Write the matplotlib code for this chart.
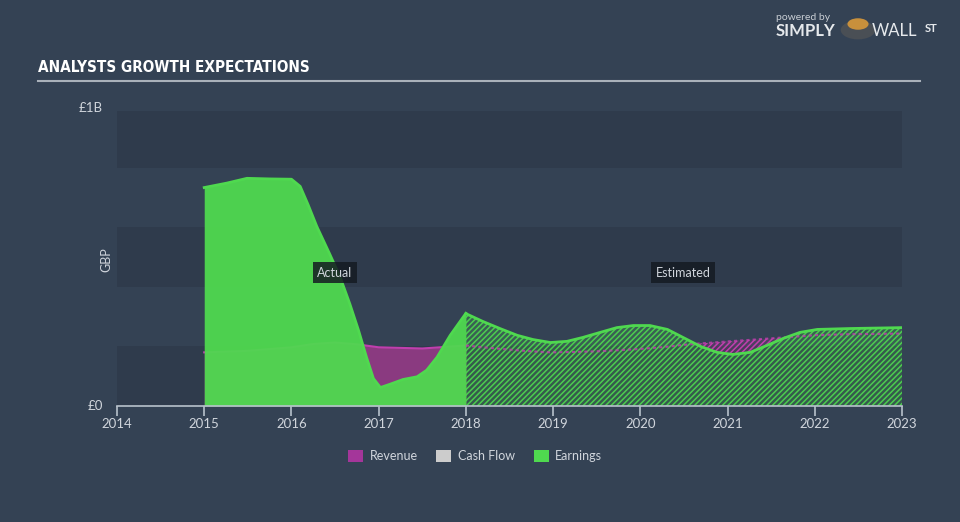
import numpy as np
import matplotlib
matplotlib.use("Agg")
import matplotlib.pyplot as plt
from matplotlib.patches import Patch, Circle

# values in billions of GBP
act_earn_years = [2015.0, 2015.0, 2015.26, 2015.49, 2015.75, 2016.0, 2016.1, 2016.19,
                  2016.29, 2016.44, 2016.56, 2016.67, 2016.77, 2016.86, 2016.94,
                  2017.02, 2017.13, 2017.28, 2017.44, 2017.55, 2017.67, 2017.82, 2018.0]
act_earn = [0.0, 0.733, 0.748, 0.764, 0.762, 0.761, 0.737, 0.676, 0.603, 0.509,
            0.431, 0.342, 0.253, 0.164, 0.092, 0.062, 0.073, 0.089, 0.098, 0.12,
            0.164, 0.237, 0.311]

act_rev_years = [2015.0, 2015.5, 2016.0, 2016.25, 2016.5, 2016.75, 2017.0, 2017.5, 2018.0]
act_rev = [0.18, 0.185, 0.197, 0.208, 0.213, 0.207, 0.197, 0.193, 0.203]

est_years = [2018.0, 2018.2, 2018.39, 2018.59, 2018.77, 2018.97, 2019.16, 2019.34,
             2019.54, 2019.73, 2019.92, 2020.11, 2020.31, 2020.49, 2020.69, 2020.88,
             2021.06, 2021.26, 2021.45, 2021.64, 2021.83, 2022.03, 2022.41, 2023.0]
est_earn = [0.31, 0.283, 0.26, 0.237, 0.223, 0.213, 0.217, 0.23, 0.247, 0.263,
            0.27, 0.27, 0.257, 0.23, 0.2, 0.18, 0.173, 0.18, 0.203, 0.227, 0.247,
            0.257, 0.26, 0.263]
est_rev = [0.203, 0.197, 0.192, 0.187, 0.183, 0.18, 0.181, 0.182, 0.184, 0.187,
           0.19, 0.194, 0.199, 0.205, 0.21, 0.214, 0.218, 0.222, 0.226, 0.23,
           0.234, 0.238, 0.241, 0.243]

year_ticks = list(range(2014, 2024))

BG = "#344254"
BAND = "#2f3b4c"
GREEN = "#4fd94f"
PURPLE = "#8a3a80"
PINK = "#c03fae"
TXT = "#d0d5dc"

plt.rcParams["font.family"] = ["Lato", "DejaVu Sans"]
plt.rcParams["hatch.linewidth"] = 1.1

fig = plt.figure(figsize=(9.6, 5.22), dpi=100, facecolor=BG)
ax = fig.add_axes([117 / 960, 1 - 406 / 522, 785 / 960, 298 / 522])
ax.set_facecolor(BG)
ax.set_xlim(2014, 2023)
ax.set_ylim(0, 1.0)

for lo in (0.0, 0.4, 0.8):
    ax.axhspan(lo, lo + 0.2 if lo < 0.8 else 0.99, color=BAND, lw=0, zorder=0)

# actual period
ax.fill_between(act_rev_years, 0, act_rev, color=PURPLE, lw=0, zorder=1)
ax.plot(act_rev_years, act_rev, color=PINK, lw=1.5, zorder=1.5)
ax.fill_between(act_earn_years, 0, act_earn, color=GREEN, alpha=0.95, lw=0, zorder=2)
ax.plot(act_earn_years[1:], act_earn[1:], color=GREEN, lw=2, zorder=2.5)

# estimated period
er = np.array(est_rev)
ee = np.array(est_earn)
ax.fill_between(est_years, ee, er, where=er > ee, interpolate=True,
                facecolor=(0.55, 0.23, 0.5, 0.3), edgecolor=PINK, hatch="//////",
                lw=0, zorder=1)
ax.fill_between(est_years, 0, est_earn, facecolor=(0.31, 0.85, 0.31, 0.2),
                edgecolor=(0.31, 0.85, 0.31, 0.9), hatch="//////", lw=0, zorder=2)
ax.plot(est_years, est_rev, color=PINK, lw=1.5, ls=(0, (1.5, 1.5)), alpha=0.8, zorder=3)
ax.plot(est_years, est_earn, color=GREEN, lw=2, zorder=4)

for s in ("top", "right", "left"):
    ax.spines[s].set_visible(False)
ax.spines["bottom"].set_color("#b8c2cc")
ax.spines["bottom"].set_linewidth(1.2)
ax.set_xticks(year_ticks)
ax.set_xticklabels([str(y) for y in year_ticks])
ax.tick_params(axis="x", colors="#b8c2cc", labelcolor=TXT, labelsize=9.5,
               length=7, width=1.2, pad=2)
ax.set_yticks([])

ax.text(-0.018, 0.0, "£0", transform=ax.transAxes, ha="right", va="center",
        color=TXT, fontsize=9.5)
ax.text(-0.018, 1.0, "£1B", transform=ax.transAxes, ha="right", va="center",
        color=TXT, fontsize=9.5)
ax.text(-0.014, 0.49, "GBP", transform=ax.transAxes, ha="center", va="center",
        rotation=90, color=TXT, fontsize=9)

box = dict(boxstyle="square,pad=0.35", facecolor="#151b22", edgecolor="none", alpha=0.85)
ax.text(2016.5, 0.447, "Actual", ha="center", va="center", color=TXT, fontsize=9,
        bbox=box, zorder=6)
ax.text(2020.49, 0.447, "Estimated", ha="center", va="center", color=TXT, fontsize=9,
        bbox=box, zorder=6)

# title and rule
fig.text(38 / 960, 1 - 68 / 522, "ANALYSTS GROWTH EXPECTATIONS", color="white",
         fontsize=11, fontweight="bold", fontstretch="condensed", va="center",
         family=["DejaVu Sans"])
fig.add_artist(plt.Line2D([38 / 960, 920 / 960], [1 - 81 / 522] * 2,
                          color="#a9b1ba", lw=1.5))

# logo
fig.text(776 / 960, 1 - 18 / 522, "powered by", color="#c9ced4", fontsize=7.5, va="center")
fig.text(776 / 960, 1 - 31 / 522, "SIMPLY", color="#e6e9ec", fontsize=12,
         fontweight="bold", va="center")
fig.add_artist(Circle((858 / 960, 1 - 30 / 522), 0.018, transform=fig.transFigure,
                      facecolor="#4a4f55", edgecolor="none"))
fig.add_artist(Circle((858 / 960, 1 - 24 / 522), 0.011, transform=fig.transFigure,
                      facecolor="#c8903c", edgecolor="none"))
fig.text(872 / 960, 1 - 31 / 522, "WALL", color="#e6e9ec", fontsize=12, va="center")
fig.text(925 / 960, 1 - 29 / 522, "ST", color="#e6e9ec", fontsize=8,
         fontweight="bold", va="center")

handles = [Patch(facecolor="#a4369a", label="Revenue"),
           Patch(facecolor="#cccccc", label="Cash Flow"),
           Patch(facecolor=GREEN, label="Earnings")]
leg = fig.legend(handles=handles, loc="center", bbox_to_anchor=(475 / 960, 1 - 456 / 522),
                 ncol=3, frameon=False, fontsize=9, handlelength=1.2, handleheight=1.2,
                 columnspacing=1.5, handletextpad=0.5)
for t in leg.get_texts():
    t.set_color(TXT)

fig.savefig("out.png", dpi=100, facecolor=BG)
